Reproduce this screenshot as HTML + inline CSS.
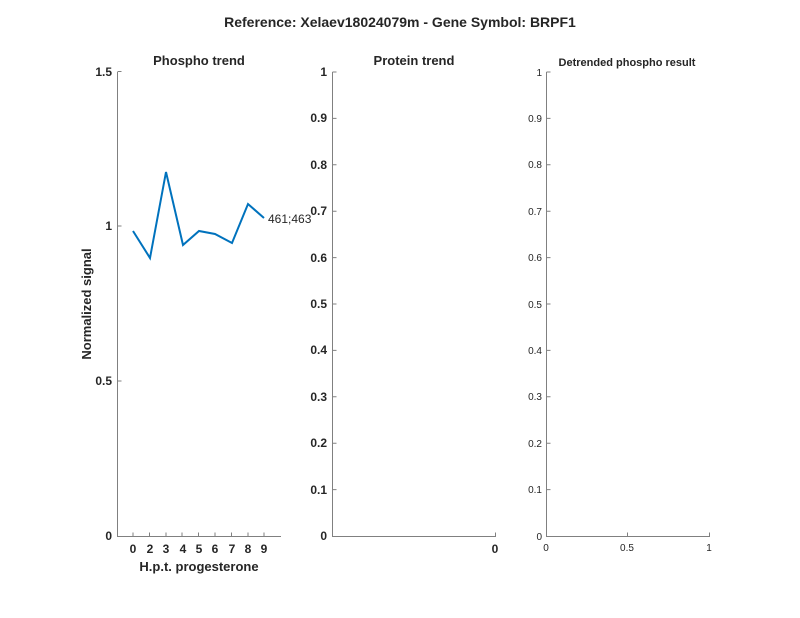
<!DOCTYPE html>
<html><head><meta charset="utf-8"><style>body{margin:0;background:#fff}svg{display:block}text{font-family:"Liberation Sans",sans-serif;fill:#262626}</style></head>
<body>
<svg width="800" height="618" viewBox="0 0 800 618" xmlns="http://www.w3.org/2000/svg">
<rect width="800" height="618" fill="#fff"/>
<text x="400" y="27" font-size="14" font-weight="bold" text-anchor="middle">Reference:  Xelaev18024079m - Gene Symbol:  BRPF1</text>
<g stroke="#808080" stroke-width="1" fill="none">
<!-- panel 1 -->
<path d="M117.5 72V536.5H281"/>
<path d="M117.5 381h4M117.5 226h4M117.5 71.5h4"/>
<path d="M133 536.5v-4M149.5 536.5v-4M166 536.5v-4M182 536.5v-4M198.5 536.5v-4M215 536.5v-4M231.5 536.5v-4M248 536.5v-4M264 536.5v-4"/>
<!-- panel 2 -->
<path d="M332.5 72V536.5H495.5v-4"/>
<path d="M332.5 72h4M332.5 118.4h4M332.5 164.8h4M332.5 211.2h4M332.5 257.6h4M332.5 304h4M332.5 350.4h4M332.5 396.8h4M332.5 443.2h4M332.5 489.6h4"/>
<!-- panel 3 -->
<path d="M546.5 72V536.5H709.5v-4M627.5 536.5v-4"/>
<path d="M546.5 72h4M546.5 118.4h4M546.5 164.8h4M546.5 211.2h4M546.5 257.6h4M546.5 304h4M546.5 350.4h4M546.5 396.8h4M546.5 443.2h4M546.5 489.6h4"/>
</g>
<polyline fill="none" stroke="#0072BD" stroke-width="2" points="133,231 150,258 166,172 183,245 199,231 215,234 232,243 248,204 264,218"/>
<text x="268" y="223" font-size="12">461;463</text>
<g font-size="13" font-weight="bold">
<text x="199" y="65" text-anchor="middle">Phospho trend</text>
<text x="414" y="65" text-anchor="middle">Protein trend</text>
</g>
<text x="627" y="66" font-size="11" font-weight="bold" text-anchor="middle">Detrended phospho result</text>
<g font-size="12" font-weight="bold" text-anchor="end">
<text x="112" y="540">0</text><text x="112" y="385">0.5</text><text x="112" y="230">1</text><text x="112" y="76">1.5</text>
<text x="327" y="540">0</text><text x="327" y="494">0.1</text><text x="327" y="447">0.2</text><text x="327" y="401">0.3</text><text x="327" y="354">0.4</text><text x="327" y="308">0.5</text><text x="327" y="262">0.6</text><text x="327" y="215">0.7</text><text x="327" y="169">0.8</text><text x="327" y="122">0.9</text><text x="327" y="76">1</text>
</g>
<g font-size="12" font-weight="bold" text-anchor="middle">
<text x="133" y="553">0</text><text x="150" y="553">2</text><text x="166" y="553">3</text><text x="183" y="553">4</text><text x="199" y="553">5</text><text x="215" y="553">6</text><text x="232" y="553">7</text><text x="248" y="553">8</text><text x="264" y="553">9</text>
<text x="495" y="553">0</text>
</g>
<text x="199" y="571" font-size="13" font-weight="bold" text-anchor="middle">H.p.t. progesterone</text>
<text transform="translate(91,304) rotate(-90)" font-size="13" font-weight="bold" text-anchor="middle">Normalized signal</text>
<g font-size="10" text-anchor="end">
<text x="542" y="540">0</text><text x="542" y="493">0.1</text><text x="542" y="447">0.2</text><text x="542" y="400">0.3</text><text x="542" y="354">0.4</text><text x="542" y="308">0.5</text><text x="542" y="261">0.6</text><text x="542" y="215">0.7</text><text x="542" y="168">0.8</text><text x="542" y="122">0.9</text><text x="542" y="76">1</text>
</g>
<g font-size="10" text-anchor="middle">
<text x="546" y="551">0</text><text x="627" y="551">0.5</text><text x="709" y="551">1</text>
</g>
</svg>
</body></html>
